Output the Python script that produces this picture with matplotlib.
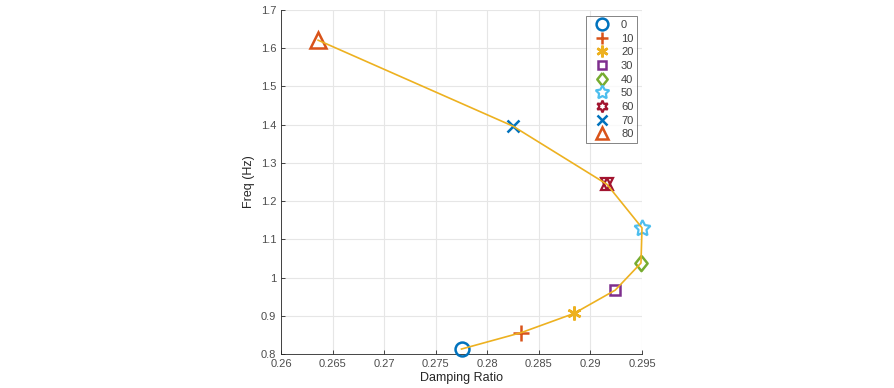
import matplotlib
matplotlib.use("Agg")
import matplotlib.pyplot as plt

plt.rcParams['font.family'] = ['Liberation Sans', 'DejaVu Sans']

labels = ['0', '10', '20', '30', '40', '50', '60', '70', '80']
damping = [0.2775, 0.2833, 0.2884, 0.2924, 0.2949, 0.2950, 0.2916, 0.2825, 0.2636]
freq = [0.813, 0.856, 0.906, 0.967, 1.038, 1.130, 1.244, 1.396, 1.621]
diamond = [(0, 1), (0.8, 0), (0, -1), (-0.8, 0), (0, 1)]
markers = ['o', '+', (6, 2, 0), 's', diamond, '*', 'h', 'x', '^']
colors = ['#0072BD', '#D95319', '#EDB120', '#7E2F8E', '#77AC30', '#4DBEEE', '#A2142F', '#0072BD', '#D95319']
sizes = [10, 11, 10, 7, 11, 12, 11, 8, 11]
xticks = [0.26, 0.265, 0.27, 0.275, 0.28, 0.285, 0.29, 0.295]
yticks = [0.8, 0.9, 1.0, 1.1, 1.2, 1.3, 1.4, 1.5, 1.6, 1.7]
yticklabels = ['0.8', '0.9', '1', '1.1', '1.2', '1.3', '1.4', '1.5', '1.6', '1.7']

fig = plt.figure(figsize=(8.94, 3.88), dpi=100)
ax = fig.add_axes([281/894, 34/388, 361/894, 344/388])

ax.plot(damping, freq, color='#EDB120', lw=1.2, zorder=4, clip_on=False)
handles = []
for i, lab in enumerate(labels):
    m = markers[i]
    if isinstance(m, str) and m == 'h':
        ax.plot(damping[i], freq[i], marker='^', ms=8, mfc='none', mec=colors[i], mew=1.6, ls='none', zorder=3, clip_on=False)
        ax.plot(damping[i], freq[i], marker='v', ms=8, mfc='none', mec=colors[i], mew=1.6, ls='none', zorder=3, clip_on=False)
        h, = ax.plot([], [], marker=(6, 1, 0), ms=10, mfc='none', mec=colors[i], mew=1.6, ls='none', label=lab)
    elif isinstance(m, str) and m == '*':
        h, = ax.plot(damping[i], freq[i], marker=(5, 1, 0), ms=sizes[i], mfc='none', mec=colors[i], mew=1.6, ls='none', label=lab, zorder=3, clip_on=False)
    else:
        h, = ax.plot(damping[i], freq[i], marker=m, ms=sizes[i], mfc='none', mec=colors[i], mew=1.8, ls='none', label=lab, zorder=3, clip_on=False)
    handles.append(h)

ax.set_xlim(0.26, 0.295)
ax.set_ylim(0.8, 1.7)
ax.set_xticks(xticks)
ax.set_xticklabels([f'{v:g}' for v in xticks])
ax.set_yticks(yticks)
ax.set_yticklabels(yticklabels)
ax.grid(True, color='#e6e6e6', lw=0.8)
ax.set_axisbelow(True)
for s in ['top', 'right']:
    ax.spines[s].set_visible(False)
for s in ['left', 'bottom']:
    ax.spines[s].set_color('#262626')
    ax.spines[s].set_linewidth(0.6)
ax.tick_params(direction='in', length=3, width=0.6, colors='#262626', labelsize=8, labelcolor='#4d4d4d')
ax.set_xlabel('Damping Ratio', fontsize=9, color='#262626', labelpad=2)
ax.set_ylabel('Freq (Hz)', fontsize=9, color='#262626', labelpad=4)

leg = ax.legend(handles=handles, loc='upper left', bbox_to_anchor=(586/894, 1 - 16/388), bbox_transform=fig.transFigure,
                fontsize=8, frameon=True, fancybox=False, edgecolor='#4d4d4d', borderpad=0.35,
                labelspacing=0.33, handlelength=2.2, handletextpad=0.6, borderaxespad=0, markerscale=0.85)
leg.get_frame().set_linewidth(0.6)
for t in leg.get_texts():
    t.set_color('#404040')

fig.savefig('out.png', dpi=100)
